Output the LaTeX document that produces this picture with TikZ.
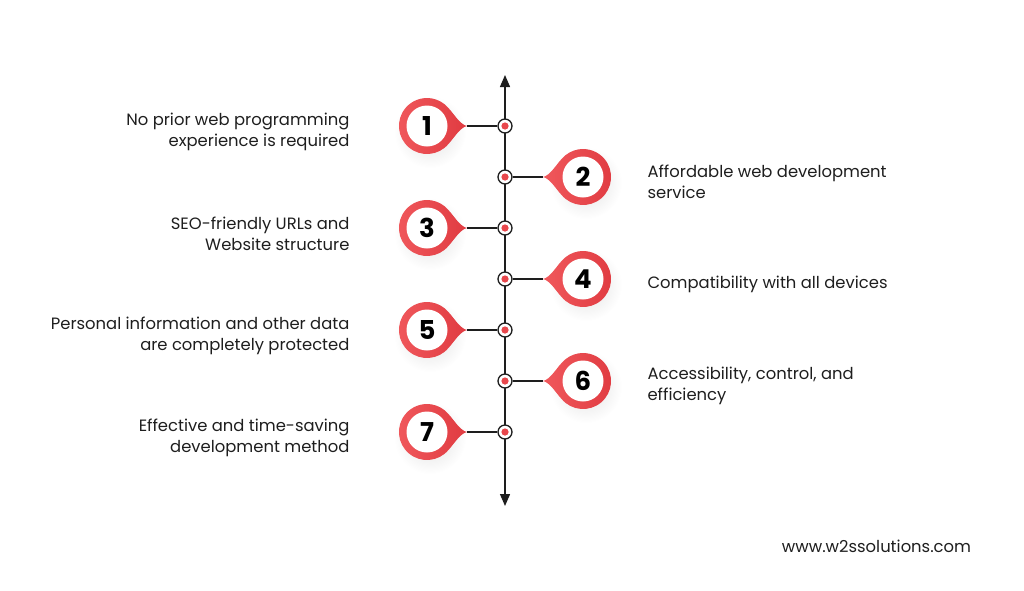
\documentclass[tikz,border=0pt]{standalone}
\usepackage{fontspec}
\setmainfont{Poppins}
\usetikzlibrary{arrows.meta,fadings}
\definecolor{pinred}{HTML}{E8474C}
\definecolor{pinlight}{HTML}{F0585C}
\definecolor{pindark}{HTML}{E03B41}
\definecolor{inkgray}{HTML}{1E1E1E}
\tikzfading[name=softdisk, inner color=transparent!0, outer color=transparent!100]

\begin{document}
\begin{tikzpicture}[
    x=1pt, y=-1pt,
    font=\fontsize{16.4}{21}\selectfont,
    axis/.style={{Triangle[length=12pt,width=10pt]}-{Triangle[length=12pt,width=10pt]}, line width=1.3pt, inkgray},
    link/.style={line width=1.3pt, inkgray},
    dotring/.style={circle, draw=inkgray, line width=1.3pt, fill=white, minimum size=14pt, inner sep=0pt,
        path picture={\fill[pinred] (path picture bounding box.center) circle (3.6pt);}},
    numtxt/.style={circle, fill=white, minimum size=41pt, inner sep=0pt, font=\fontsize{26}{26}\selectfont\bfseries, text=black},
    pinbody/.style={left color=pinlight, right color=pindark},
    lefttxt/.style={anchor=east, align=right, text=inkgray},
    righttxt/.style={anchor=west, align=left, text=inkgray}
]
\useasboundingbox (0,0) rectangle (1024,590);

% timeline axis
\coordinate (top) at (505,75);
\coordinate (bot) at (505,506);
\draw[axis] (bot) -- (top);

% side: 1 = badge left of axis, -1 = badge right of axis
\foreach \i/\y/\side/\txt in {
    1/126/1/{No prior web programming\\experience is required},
    2/177/-1/{Affordable web development\\service},
    3/228/1/{SEO-friendly URLs and\\Website structure},
    4/279/-1/{Compatibility with all devices},
    5/330/1/{Personal information and other data\\are completely protected},
    6/381/-1/{Accessibility, control, and\\efficiency},
    7/432/1/{Effective and time-saving\\development method}}
{
  \coordinate (t\i) at ({505-38*\side},\y);
  \fill[black, opacity=0.12, path fading=softdisk] ({505-78*\side+3},\y+6) circle (36);
  \shade[pinbody, shift={({505-78*\side},\y)}, xscale=\side]
    (40,0) .. controls (33,1.5) and (27,12) .. (21.4,18)
    arc[start angle=40, end angle=320, radius=28]
    .. controls (27,-12) and (33,-1.5) .. (40,0) -- cycle;
  \node[numtxt] (b\i) at ({505-78*\side},\y) {\i};
  \node[dotring] (m\i) at (505,\y) {};
  \draw[link] (t\i) -- (m\i);
  \ifnum\side=1
    \node[lefttxt] (l\i) at (353,\y+6) {\txt};
  \else
    \node[righttxt] (l\i) at (644,\y+5) {\txt};
  \fi
}

\node[text=inkgray, font=\fontsize{16.4}{18}\selectfont] (site) at (876.5,546) {www.w2ssolutions.com};
\end{tikzpicture}
\end{document}
